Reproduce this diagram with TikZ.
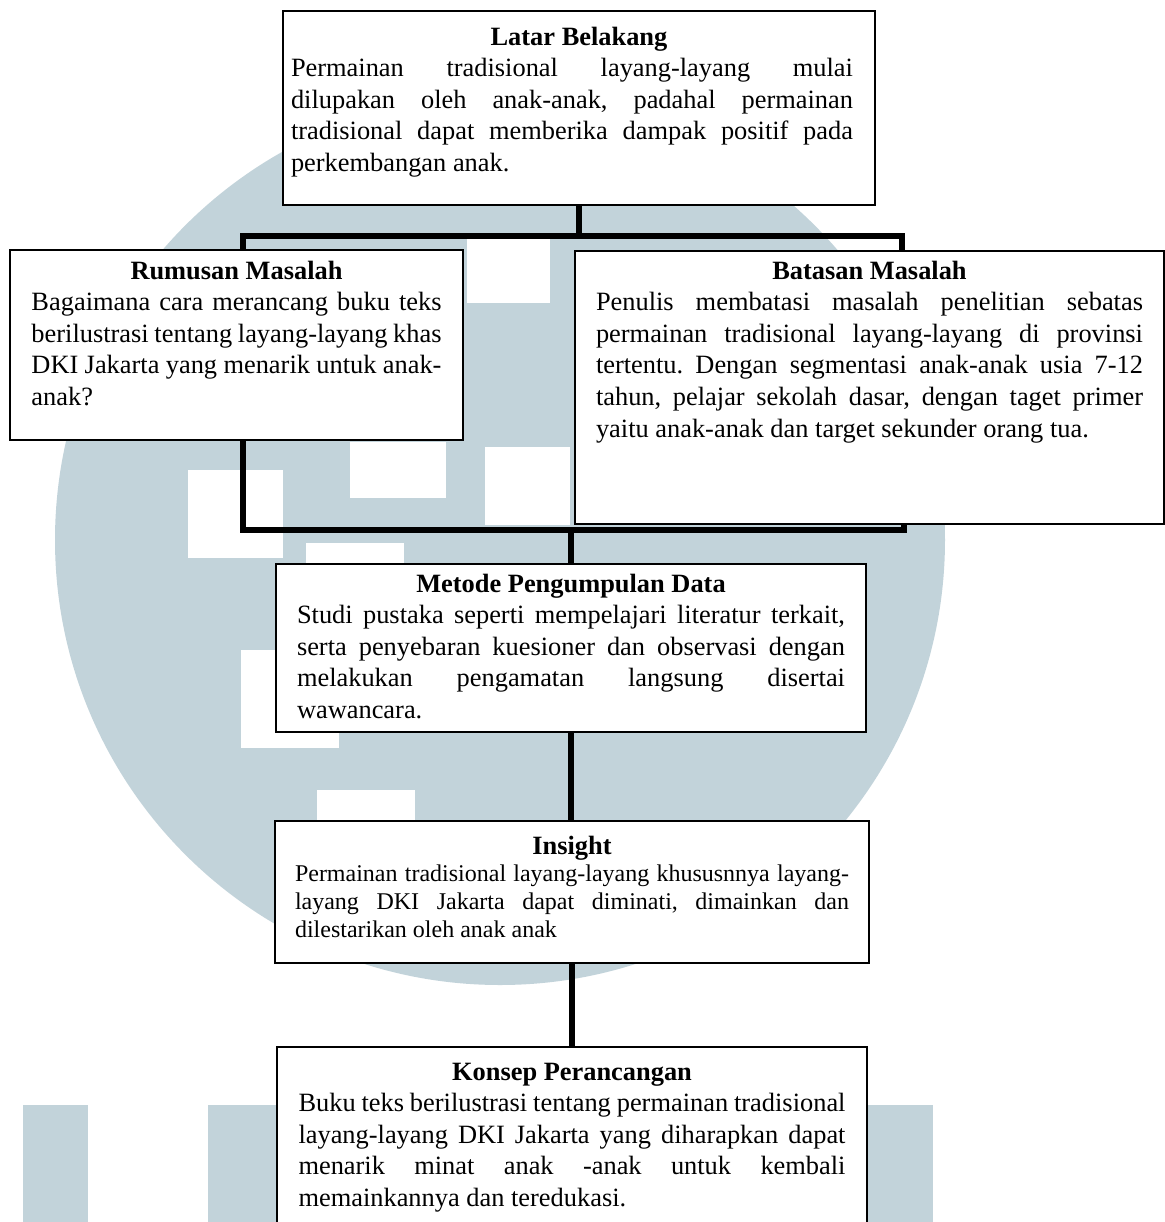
\documentclass[tikz,border=0pt]{standalone}
\usepackage{fontspec}
\setmainfont{Liberation Serif}
\usepackage{tikz}

\definecolor{tandaair}{RGB}{194,211,218}
\newcommand{\judul}[1]{{\centering\bfseries #1\par}}
\tolerance=10000
\pretolerance=10000
\frenchspacing

\begin{document}
\begin{tikzpicture}[x=0.5pt,y=-0.5pt,
	kotak/.style={draw,fill=white,line width=1pt,anchor=north west,align=justify,inner ysep=0pt,font=\fontsize{13.2}{15.8}\selectfont\frenchspacing},
	garis/.style={line width=3.3pt,line join=miter},
	tanda/.style={fill=tandaair}]
\useasboundingbox (0,0) rectangle (1165,1222);
\clip (0,0) rectangle (1165,1222);

% tanda air di belakang
\fill[tanda] (500,540) circle[radius=445];
\foreach \xa/\ya/\xb/\yb in {467/237/550/303, 350/442/446/498, 188/470/283/558, 485/447/570/525, 306/543/404/570, 241/650/339/748, 317/790/415/850}
	\fill[white] (\xa,\ya) rectangle (\xb,\yb);
\foreach \xa/\xb in {23/88, 208/276, 868/933}
	\fill[tanda] (\xa,1105) rectangle (\xb,1240);

\node[kotak,text width=288pt,inner xsep=4pt,text height=17pt,text depth=80pt] (latar) at (282,10)
	{\judul{Latar Belakang}\parbox[t]{281pt}{Permainan tradisional layang-layang mulai\linebreak dilupakan oleh anak-anak, padahal permainan\linebreak tradisional dapat memberika dampak positif pada\linebreak perkembangan anak.}};
\node[kotak,text width=205pt,inner xsep=10.75pt,text height=14.5pt,text depth=80.5pt] (rumusan) at (9,249)
	{\judul{Rumusan Masalah}Bagaimana cara merancang buku teks\linebreak berilustrasi tentang layang-layang khas\linebreak DKI Jakarta yang menarik untuk anak-\linebreak anak?};
\node[kotak,text width=273.5pt,inner xsep=10.5pt,text height=14pt,text depth=122.5pt] (batasan) at (574,250)
	{\judul{Batasan Masalah}Penulis membatasi masalah penelitian sebatas\linebreak permainan tradisional layang-layang di provinsi\linebreak tertentu. Dengan segmentasi anak-anak usia 7-12\linebreak tahun, pelajar sekolah dasar, dengan taget primer\linebreak yaitu anak-anak dan target sekunder orang tua.};
\node[kotak,text width=274pt,inner xsep=10.5pt,text height=14pt,text depth=70pt] (metode) at (275,563)
	{\judul{Metode Pengumpulan Data}Studi pustaka seperti mempelajari literatur terkait,\linebreak serta penyebaran kuesioner dan observasi dengan\linebreak melakukan pengamatan langsung disertai\linebreak wawancara.};
\node[kotak,text width=277pt,inner xsep=10pt,text height=16.5pt,text depth=54.5pt] (insight) at (274,820)
	{\judul{Insight}{\fontsize{12}{13.9}\selectfont Permainan tradisional layang-layang khususnnya layang-\linebreak layang DKI Jakarta dapat diminati, dimainkan dan\linebreak dilestarikan oleh anak anak\par}};
\node[kotak,text width=273.5pt,inner xsep=10.75pt,text height=16.5pt,text depth=80.5pt] (konsep) at (276,1046)
	{\judul{Konsep Perancangan}Buku teks berilustrasi tentang permainan tradisional\linebreak layang-layang DKI Jakarta yang diharapkan dapat\linebreak menarik minat anak -anak untuk kembali\linebreak memainkannya dan teredukasi.};

\coordinate (kiriatas) at (243,236);
\coordinate (kananatas) at (902,236);
\coordinate (kiribawah) at (243,530);
\coordinate (kananbawah) at (904,530);

\draw[garis] (latar.south) -- (latar.south |- kiriatas);
\draw[garis] (kiriatas |- rumusan.north) -- (kiriatas) -- (kananatas) -- (kananatas |- batasan.north);
\draw[garis] (kiriatas |- rumusan.south) -- (kiribawah) -- (kananbawah) -- (kananbawah |- batasan.south);
\draw[garis] (metode.north |- kiribawah) -- (metode.north);
\draw[garis] (metode.south) -- (metode.south |- insight.north);
\draw[garis] (insight.south) -- (insight.south |- konsep.north);
\end{tikzpicture}
\end{document}
